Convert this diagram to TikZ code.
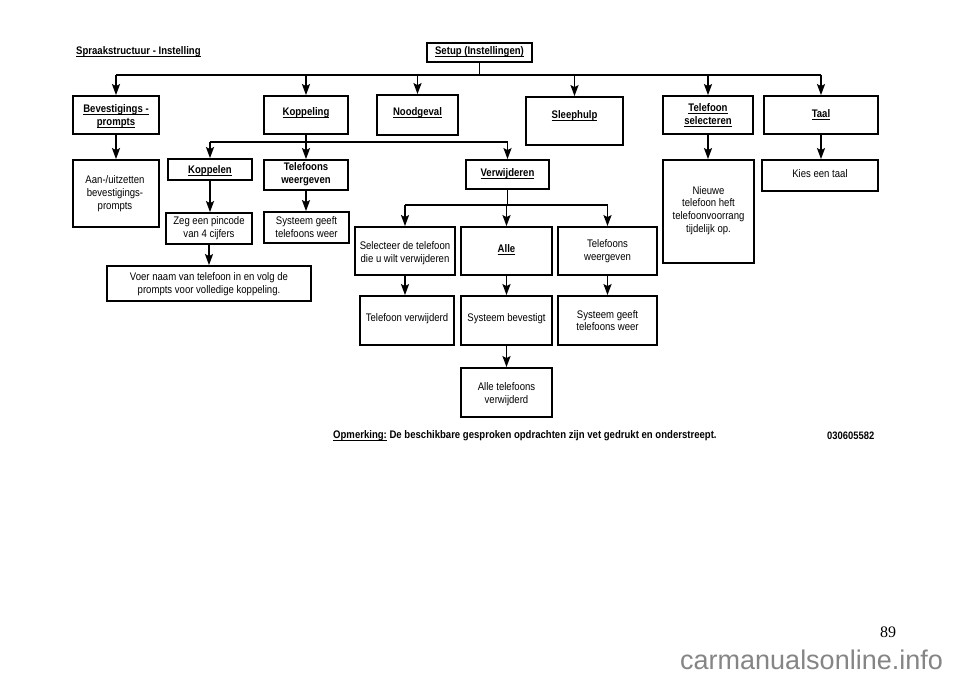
\documentclass[tikz,border=0pt]{standalone}
\usepackage{fontspec}
\setmainfont{Liberation Sans}[FakeStretch=0.87]
\newfontfamily\wmfont{Liberation Sans}
\newfontfamily\pagefont{Liberation Serif}
\usetikzlibrary{arrows.meta,fit}
\newcommand\myul[1]{\setbox0\hbox{#1}\rlap{\vrule width\wd0 height -1.5bp depth 2.5bp}\box0\relax}
\begin{document}
\begin{tikzpicture}[x=1bp,y=-1bp,
  box/.style={draw, line width=1.8bp, inner sep=0pt},
  txt/.style={font=\fontsize{11bp}{12.7bp}\selectfont, align=center, inner sep=0pt},
  btxt/.style={txt, font=\fontsize{11bp}{12.7bp}\selectfont\bfseries},
  ln/.style={line width=1.7bp},
  arr/.style={line width=1.7bp, -{Stealth[length=11bp,width=8bp,inset=2bp]}},
]
\useasboundingbox[fill=white] (0,0) rectangle (960,678);

% title
\node[btxt, anchor=west] (title) at (76,51.5) {\myul{Spraakstructuur - Instelling}};

% root
\node[box, fit={(427,43) (532,62)}] (setup) {};
\node[btxt] (setupT) at (479.5,52) {\myul{Setup (Instellingen)}};

% top row
\node[box, fit={(73,96) (159,134)}] (bev) {};
\node[btxt] (bevT) at (116,116) {\myul{Bevestigings -}\\\myul{prompts}};
\node[box, fit={(264,96) (348,134)}] (kop) {};
\node[btxt] (kopT) at (306,113) {\myul{Koppeling}};
\node[box, fit={(377,95) (458,135)}] (nood) {};
\node[btxt] (noodT) at (417.5,112.5) {\myul{Noodgeval}};
\node[box, fit={(526,97) (623,145)}] (sleep) {};
\node[btxt] (sleepT) at (574.5,116) {\myul{Sleephulp}};
\node[box, fit={(663,96) (753,134)}] (telsel) {};
\node[btxt] (telselT) at (708,115.5) {\myul{Telefoon}\\\myul{selecteren}};
\node[box, fit={(764,96) (878,134)}] (taal) {};
\node[btxt] (taalT) at (821,114.5) {\myul{Taal}};

% second level
\node[box, fit={(73,160) (159,227)}] (aan) {};
\node[txt] (aanT) at (115,193.5) {Aan-/uitzetten\\bevestigings-\\prompts};
\node[box, fit={(168,159) (252,180)}] (koppelen) {};
\node[btxt] (koppelenT) at (210,171) {\myul{Koppelen}};
\node[box, fit={(264,160) (348,190)}] (telw) {};
\node[btxt] (telwT) at (306,174.5) {Telefoons\\weergeven};
\node[box, fit={(166,213) (252,244)}] (zeg) {};
\node[txt] (zegT) at (209,228.5) {Zeg een pincode\\van 4 cijfers};
\node[box, fit={(264,212) (349,243)}] (sys1) {};
\node[txt] (sys1T) at (306.5,227) {Systeem geeft\\telefoons weer};
\node[box, fit={(107,266) (311,301)}] (voer) {};
\node[txt] (voerT) at (209,284) {Voer naam van telefoon in en volg de\\prompts voor volledige koppeling.};

\node[box, fit={(466,160) (549,189)}] (verw) {};
\node[btxt] (verwT) at (507.5,174) {\myul{Verwijderen}};
\node[box, fit={(355,227) (455,275)}] (sel) {};
\node[txt] (selT) at (405,253) {Selecteer de telefoon\\die u wilt verwijderen};
\node[box, fit={(461,227) (552,275)}] (alle) {};
\node[btxt] (alleT) at (506.5,250) {\myul{Alle}};
\node[box, fit={(558,227) (657,275)}] (telw2) {};
\node[txt] (telw2T) at (607.5,251) {Telefoons\\weergeven};
\node[box, fit={(360,296) (454,345)}] (telverw) {};
\node[txt] (telverwT) at (407,319) {Telefoon verwijderd};
\node[box, fit={(461,296) (552,345)}] (sysbev) {};
\node[txt] (sysbevT) at (506.5,319) {Systeem bevestigt};
\node[box, fit={(558,296) (657,345)}] (sys2) {};
\node[txt] (sys2T) at (607.5,320.5) {Systeem geeft\\telefoons weer};
\node[box, fit={(461,368) (552,417)}] (alletel) {};
\node[txt] (alletelT) at (506.5,394.5) {Alle telefoons\\verwijderd};

\node[box, fit={(663,160) (754,263)}] (nieuwe) {};
\node[txt] (nieuweT) at (708.5,210.5) {Nieuwe\\telefoon heft\\telefoonvoorrang\\tijdelijk op.};
\node[box, fit={(762,160) (878,191)}] (kies) {};
\node[txt] (kiesT) at (820,174) {Kies een taal};

% bus coordinates
\coordinate (busA) at (0,75);
\coordinate (busB) at (0,142);
\coordinate (busC) at (0,205);

% root bus
\draw[ln] (setup.south) -- (setup.south |- busA);
\draw[ln] (bev.north |- busA) -- (taal.north |- busA);
\foreach \n in {bev,kop,nood,sleep,telsel,taal}
  \draw[arr] (\n.north |- busA) -- (\n.north);

% Koppeling branch
\draw[ln] (kop.south) -- (kop.south |- busB);
\draw[ln] (koppelen.north |- busB) -- (verw.north |- busB);
\foreach \n in {koppelen,telw,verw}
  \draw[arr] (\n.north |- busB) -- (\n.north);

\draw[arr] (bev.south) -- (aan.north);
\draw[arr] (koppelen.south) -- (koppelen.south |- zeg.north);
\draw[arr] (zeg.south) -- (zeg.south |- voer.north);
\draw[arr] (telw.south) -- (telw.south |- sys1.north);

% Verwijderen branch
\draw[ln] (verw.south) -- (verw.south |- busC);
\draw[ln] (sel.north |- busC) -- (telw2.north |- busC);
\foreach \n in {sel,alle,telw2}
  \draw[arr] (\n.north |- busC) -- (\n.north);
\draw[arr] (sel.south) -- (sel.south |- telverw.north);
\draw[arr] (alle.south) -- (sysbev.north);
\draw[arr] (telw2.south) -- (sys2.north);
\draw[arr] (sysbev.south) -- (alletel.north);

\draw[arr] (telsel.south) -- (telsel.south |- nieuwe.north);
\draw[arr] (taal.south) -- (taal.south |- kies.north);

% note
\node[anchor=west, inner sep=0pt, font=\fontsize{11bp}{12bp}\selectfont\bfseries] (note) at (333,436) {\myul{Opmerking:} De beschikbare gesproken opdrachten zijn vet gedrukt en onderstreept.};
\node[anchor=west, inner sep=0pt, font=\fontsize{10.8bp}{12bp}\selectfont\bfseries] (code) at (827,436) {030605582};

% page number and watermark
\node[anchor=base west, inner sep=0pt, font=\pagefont\fontsize{16bp}{18bp}\selectfont] (pg) at (880,637) {89};
\node[anchor=base west, inner sep=0pt, text=black!48, font=\wmfont\fontsize{27bp}{30bp}\selectfont] (wm) at (680,669.5) {carmanualsonline.info};
\end{tikzpicture}
\end{document}
